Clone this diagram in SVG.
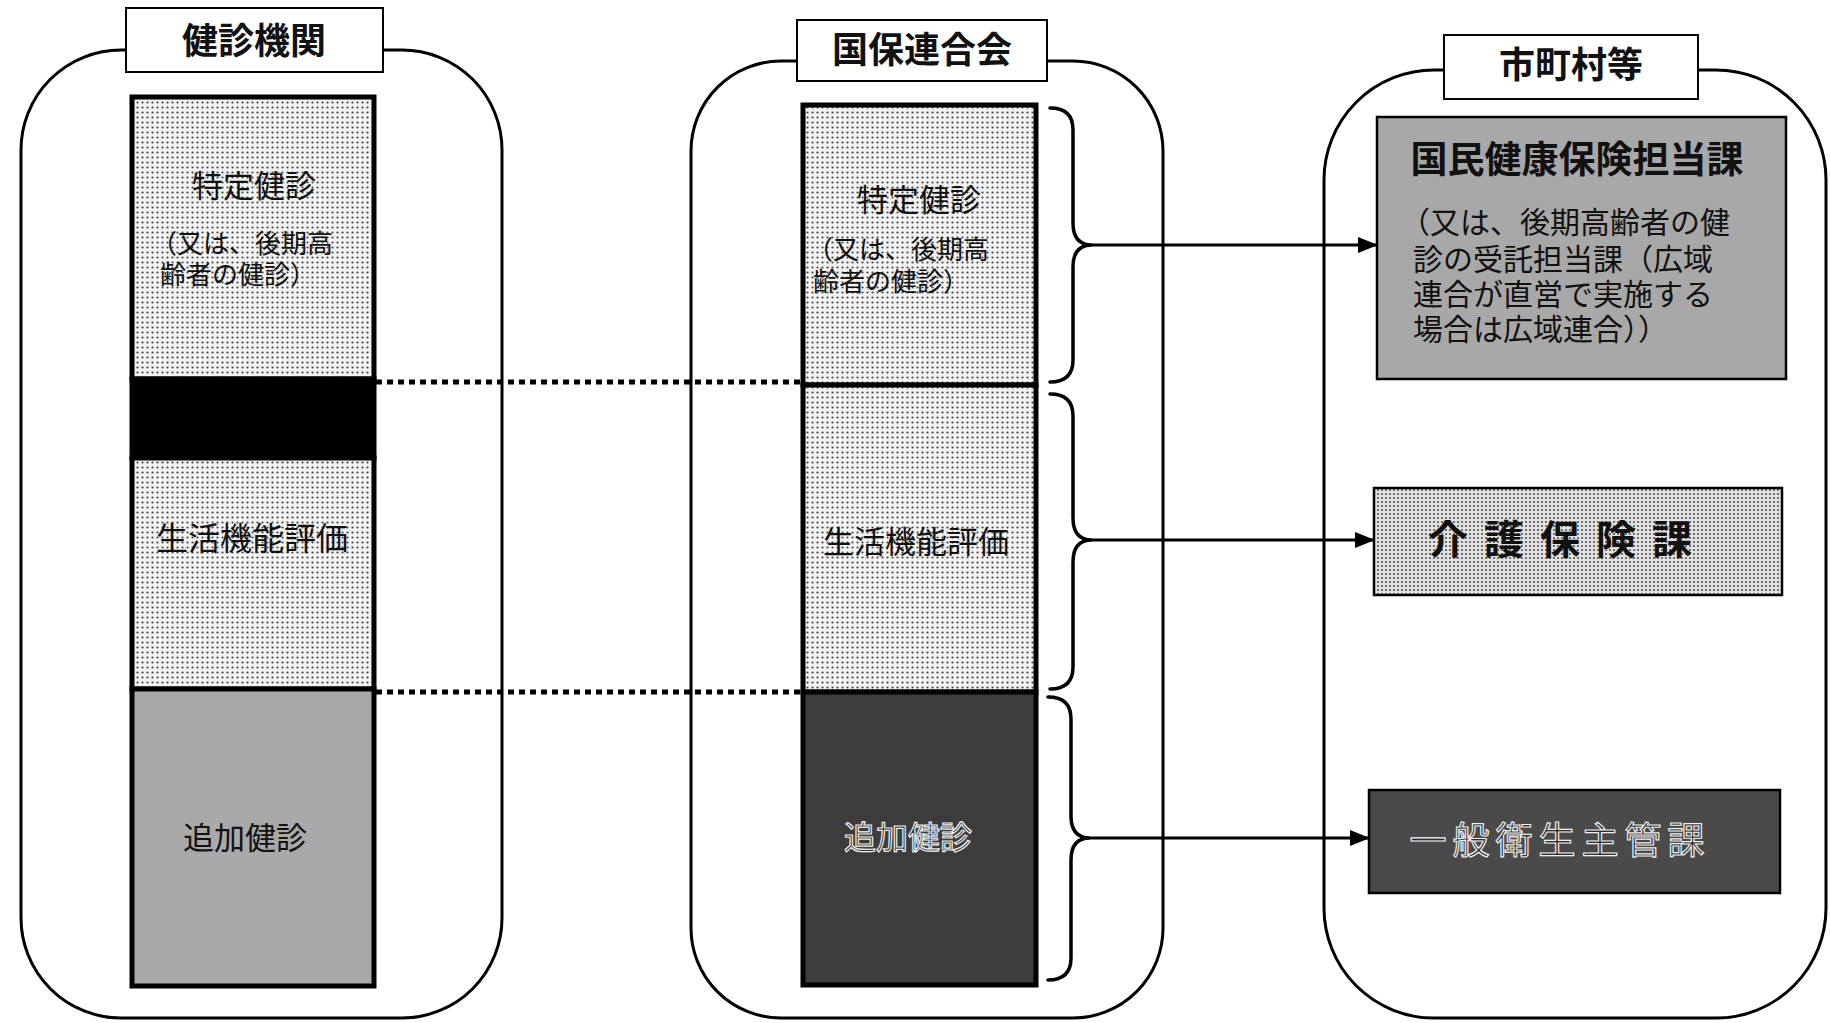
<svg xmlns="http://www.w3.org/2000/svg" width="1830" height="1023" viewBox="0 0 1830 1023">
<defs>
<pattern id="dots" width="5" height="5" patternUnits="userSpaceOnUse">
<rect width="5" height="5" fill="#f2f2f2"/>
<circle cx="2.5" cy="2.5" r="1.1" fill="#444"/>
</pattern>
<pattern id="dots2" width="4" height="4" patternUnits="userSpaceOnUse">
<rect width="4" height="4" fill="#e2e2e2"/>
<circle cx="2" cy="2" r="1.1" fill="#555"/>
</pattern>
<marker id="arr" markerWidth="20" markerHeight="16" refX="19" refY="8" orient="auto" markerUnits="userSpaceOnUse">
<path d="M0,0 L20,8 L0,16 Z" fill="#000"/>
</marker>
</defs>
<style>
.cont{fill:none;stroke:#000;stroke-width:3}
.title{fill:#fff;stroke:#000;stroke-width:2}
.tt{font-family:"Noto Sans CJK JP",sans-serif;font-weight:bold;font-size:36px;text-anchor:middle;fill:#111}
.col{stroke:#000;stroke-width:5}
.t{font-family:"Noto Sans CJK JP",sans-serif;font-size:30px;fill:#111}
.s{font-size:26px}
.c{text-anchor:middle}
.brace{fill:none;stroke:#000;stroke-width:3.5;stroke-linecap:round}
.arrow{fill:none;stroke:#000;stroke-width:3}
.dot{fill:none;stroke:#000;stroke-width:5;stroke-dasharray:6 5}
.inv{fill:#2e2e2e;stroke:#f0f0f0;stroke-width:1.2}
.box{stroke:#000;stroke-width:2.5}
</style>

<g id="kenshin-kikan">
<rect class="cont" x="21" y="50" width="481" height="968" rx="100" ry="100"/>
<rect class="title" x="126" y="8" width="257" height="64"/>
<text class="tt" x="254" y="54">健診機関</text>
<rect x="132" y="97" width="242" height="282" fill="url(#dots)" class="col"/>
<rect x="132" y="379" width="242" height="79" fill="#000" class="col"/>
<rect x="132" y="458" width="242" height="231" fill="url(#dots)" class="col"/>
<rect x="132" y="689" width="242" height="297" fill="#a9a9a9" class="col"/>
<text class="t c" x="254" y="197" style="font-size:31px">特定健診</text>
<text class="t s" x="151" y="253">（又は、後期高</text>
<text class="t s" x="160" y="284">齢者の健診）</text>
<text class="t c" x="252" y="550" style="font-size:32px">生活機能評価</text>
<text class="t c" x="245" y="849" style="font-size:31px">追加健診</text>
</g>

<g id="kokuho-rengokai">
<rect class="cont" x="691" y="61" width="472" height="957" rx="90" ry="90"/>
<rect class="title" x="797" y="20" width="250" height="61"/>
<text class="tt" x="922" y="63">国保連合会</text>
<rect x="803" y="105" width="233" height="280" fill="url(#dots)" class="col"/>
<rect x="803" y="385" width="233" height="307" fill="url(#dots)" class="col"/>
<rect x="803" y="692" width="233" height="293" fill="#3c3c3c" class="col"/>
<text class="t c" x="919" y="211" style="font-size:31px">特定健診</text>
<text class="t s" x="807" y="259">（又は、後期高</text>
<text class="t s" x="813" y="291">齢者の健診）</text>
<text class="t c" x="916" y="553" style="font-size:31px">生活機能評価</text>
<text class="t c inv" x="908" y="849" style="font-size:32px">追加健診</text>
</g>

<g id="shichoson">
<rect class="cont" x="1324" y="70" width="502" height="948" rx="110" ry="110"/>
<rect class="title" x="1444" y="35" width="254" height="64"/>
<text class="tt" x="1571" y="78">市町村等</text>
</g>

<g id="kokuho-tanto">
<rect class="box" x="1377" y="117" width="409" height="262" fill="#a8a8a8"/>
<text class="t c" x="1577" y="173" style="font-size:37px;font-weight:bold">国民健康保険担当課</text>
<text class="t" x="1400" y="233">（又は、後期高齢者の健</text>
<text class="t" x="1413" y="270">診の受託担当課（広域</text>
<text class="t" x="1413" y="305">連合が直営で実施する</text>
<text class="t" x="1413" y="340">場合は広域連合））</text>
</g>

<g id="kaigo">
<rect class="box" x="1374" y="488" width="408" height="107" fill="url(#dots2)"/>
<text class="t c" x="1568" y="554" style="font-size:40px;font-weight:bold;letter-spacing:16px">介護保険課</text>
</g>

<g id="eisei">
<rect class="box" x="1369" y="790" width="411" height="103" fill="#4a4a4a"/>
<text class="t c inv" x="1560" y="854" style="font-size:37px;letter-spacing:6px">一般衛生主管課</text>
</g>

<g id="connectors">
<path class="dot" d="M376,382 L803,382"/>
<path class="dot" d="M376,692 L803,692"/>
<path class="brace" d="M1050,108 Q1073,108 1073,130 L1073,223 Q1073,245 1092,245 Q1073,245 1073,267 L1073,360 Q1073,382 1050,382"/>
<path class="brace" d="M1050,394 Q1073,394 1073,416 L1073,518 Q1073,540 1092,540 Q1073,540 1073,562 L1073,667 Q1073,689 1050,689"/>
<path class="brace" d="M1048,697 Q1071,697 1071,719 L1071,816 Q1071,838 1090,838 Q1071,838 1071,860 L1071,958 Q1071,980 1048,980"/>
<path class="arrow" d="M1092,245 L1377,245" marker-end="url(#arr)"/>
<path class="arrow" d="M1092,540 L1374,540" marker-end="url(#arr)"/>
<path class="arrow" d="M1090,838 L1369,838" marker-end="url(#arr)"/>
</g>
</svg>
